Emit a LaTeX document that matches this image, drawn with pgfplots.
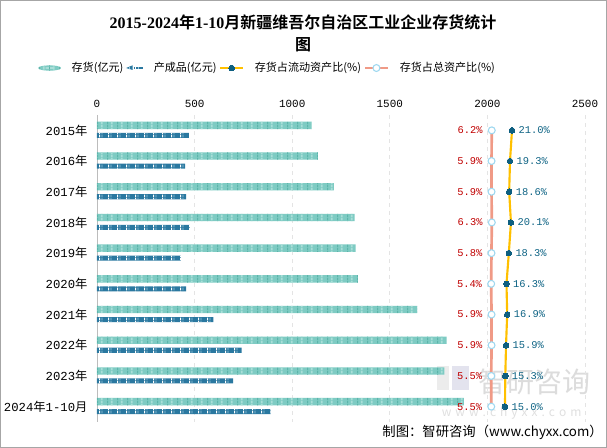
\documentclass[border=0pt]{standalone}
\usepackage{fontspec}
\setmainfont{Noto Sans CJK SC}[BoldFont={Noto Sans CJK SC Bold}]
\newfontfamily\mono{Liberation Mono}
\newfontfamily\tser{Liberation Serif}
\usepackage{pgfplots}
\usepackage{pgfplotstable}
\pgfplotsset{compat=1.18}
\usetikzlibrary{patterns.meta}

\definecolor{beadfill}{HTML}{7ECBC3}
\definecolor{beaddark}{HTML}{5DB5AB}
\definecolor{beadlight}{HTML}{A9DED8}
\definecolor{fincol}{HTML}{2A78A0}
\definecolor{finlight}{HTML}{9CC8DE}
\definecolor{yelc}{HTML}{FFC000}
\definecolor{dotc}{HTML}{0E5F80}
\definecolor{salc}{HTML}{F09A86}
\definecolor{ringc}{HTML}{9ED8F0}
\definecolor{redc}{HTML}{C00000}
\definecolor{tealc}{HTML}{0E6384}
\definecolor{gridc}{HTML}{E4E4E4}
\definecolor{framec}{HTML}{A6A6A6}

\tikzdeclarepattern{
  name=beads,
  type=colored,
  bounding box={(0pt,0pt) and (7.3pt,2pt)},
  tile size={(7.3pt,2pt)},
  code={
    \fill[beaddark] (0pt,0pt) rectangle (0.8pt,2pt);
    \fill[beadlight] (3.0pt,0pt) rectangle (4.3pt,2pt);
  }
}
\tikzdeclarepattern{
  name=fins,
  type=colored,
  bounding box={(0pt,0pt) and (6.75pt,2pt)},
  tile size={(6.75pt,2pt)},
  code={
    \fill[white] (0pt,0pt) rectangle (0.9pt,2pt);
    \fill[finlight] (2.2pt,0pt) rectangle (2.9pt,2pt);
  }
}

\pgfplotstableread{
idx inv fin lx lp tx tp
0 1100 471 2126.0 21.0 2022.3 6.2
1 1131 451 2115.8 19.3 2021.2 5.9
2 1213 456 2111.6 18.6 2021.2 5.9
3 1320 476 2120.6 20.1 2022.7 6.3
4 1325 430 2109.8 18.3 2020.9 5.8
5 1336 456 2097.8 16.3 2019.4 5.4
6 1640 596 2101.4 16.9 2021.2 5.9
7 1791 741 2095.4 15.9 2021.2 5.9
8 1779 698 2091.8 15.3 2019.8 5.5
9 1880 890 2090.0 15.0 2019.8 5.5
}\datatable

\begin{document}
\begin{tikzpicture}
\useasboundingbox (-72.75pt,-19.5pt) rectangle (382.5pt,316.5pt);
\draw[framec, line width=0.9pt] (-72.3pt,-19.05pt) rectangle (382.05pt,316.05pt);

% watermark (behind the chart)
\fill[gray!30, opacity=0.5] (255pt,24pt) rectangle (264pt,42pt);
\fill[blue!25!gray!35, opacity=0.5] (266pt,24pt) rectangle (279pt,42pt);
\node[text=gray!55, opacity=0.5, font=\fontsize{21}{22}\selectfont] at (328pt,30pt) {智研咨询};
\node[text=gray!50, opacity=0.5, font=\fontsize{9}{10}\selectfont] at (311pt,7pt) {w\,\,w\,\,w\,\,.\,\,c\,\,h\,\,y\,\,x\,\,x\,\,.\,\,c\,\,o\,\,m};

\begin{axis}[
  at={(0,0)}, anchor=south west,
  scale only axis, width=366pt, height=230.25pt,
  xmin=0, xmax=2500, ymin=-0.5, ymax=9.5, y dir=reverse,
  clip=false,
  axis line style={draw=none},
  major tick style={draw=none},
  xtick={0,500,1000,1500,2000,2500},
  xticklabel pos=upper,
  xmajorgrids,
  grid style={dashed, gridc, line width=0.6pt},
  /pgf/number format/assume math mode=true,
  /pgf/number format/1000 sep={},
  xticklabel style={font=\mono\fontsize{8.2}{9}\selectfont, inner sep=0pt, yshift=5.5pt},
  ytick={0,...,9},
  yticklabels={{{\mono 2015}年},{{\mono 2016}年},{{\mono 2017}年},{{\mono 2018}年},{{\mono 2019}年},{{\mono 2020}年},{{\mono 2021}年},{{\mono 2022}年},{{\mono 2023}年},{{\mono 2024}年{\mono 1-10}月}},
  yticklabel style={font=\fontsize{9.2}{10}\selectfont, inner sep=0pt, xshift=-7pt},
  legend columns=4,
  legend style={at={(-0.121,1.153)}, anchor=west, draw=none, fill=none, inner sep=0pt,
    font=\fontsize{8.3}{9}\selectfont,
    /tikz/every odd column/.append style={column sep=6pt}},
  legend cell align=left,
]
\draw[gridc!60!gray, line width=0.6pt] (axis cs:0,-0.5) -- (axis cs:0,9.5);

\addplot[xbar, bar width=5.5pt, bar shift=3.75pt, fill=beadfill, draw=none,
  postaction={pattern=beads},
  legend image code/.code={\fill[beadfill] (0.3cm,0pt) ellipse (0.3cm and 0.07cm);
     \fill[beadlight] (0.3cm,0pt) ellipse (0.12cm and 0.03cm);}]
  table[x=inv, y=idx] {\datatable};
\addlegendentry{存货(亿元)}

\addplot[xbar, bar width=3.8pt, bar shift=-3.75pt, fill=fincol, draw=none,
  postaction={pattern=fins},
  legend image code/.code={\fill[fincol] (0.05cm,0pt) -- (0.22cm,0.07cm) -- (0.22cm,-0.05cm) -- cycle;
     \fill[fincol] (0.26cm,-0.03cm) rectangle (0.5cm,0.03cm);}]
  table[x=fin, y=idx] {\datatable};
\addlegendentry{产成品(亿元)}

\addplot[color=yelc, line width=1.6pt, mark=*, mark size=2.1pt,
  mark options={fill=dotc, draw=dotc, line width=0pt},
  point meta=explicit,
  nodes near coords={\pgfmathprintnumber[fixed,fixed zerofill,precision=1]{\pgfplotspointmeta}\%},
  every node near coord/.append style={anchor=west, xshift=5pt, inner sep=0pt,
     text=tealc, font=\mono\fontsize{7.8}{8}\selectfont}]
  table[x=lx, y=idx, meta=lp] {\datatable};
\addlegendentry{存货占流动资产比(\%)}

\addplot[color=salc, line width=2pt, mark=*, mark size=2.6pt,
  mark options={fill=white, draw=ringc, line width=0.8pt},
  point meta=explicit,
  nodes near coords={\pgfmathprintnumber[fixed,fixed zerofill,precision=1]{\pgfplotspointmeta}\%},
  every node near coord/.append style={anchor=east, xshift=-6.5pt, inner sep=0pt,
     text=redc, font=\mono\fontsize{7.8}{8}\selectfont}]
  table[x=tx, y=idx, meta=tp] {\datatable};
\addlegendentry{存货占总资产比(\%)}
\end{axis}

% title
\node[font=\fontsize{12}{14}\selectfont\bfseries] at (154.5pt,300pt)
  {{\tser\bfseries 2015-2024}年{\tser\bfseries 1-10}月新疆维吾尔自治区工业企业存货统计};
\node[font=\fontsize{12}{14}\selectfont\bfseries] at (154.5pt,282.75pt) {图};

% footer
\node[anchor=east, font=\fontsize{10}{11}\selectfont, inner sep=0pt] at (379.5pt,-7.5pt) {制图：智研咨询（www.chyxx.com）};
\end{tikzpicture}
\end{document}
